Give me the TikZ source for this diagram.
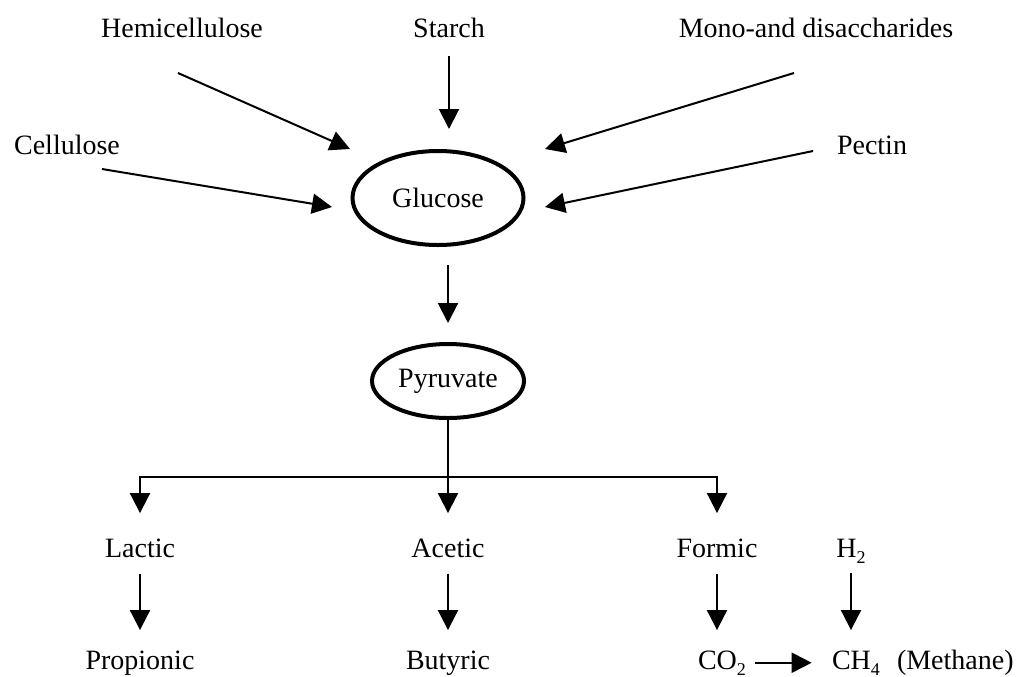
\documentclass[tikz,border=0pt]{standalone}
\usepackage{fontspec}
\setmainfont{Liberation Serif}
\usetikzlibrary{arrows.meta}
\usetikzlibrary{shapes.geometric}
\usetikzlibrary{positioning}

\newcommand{\chemsub}[1]{\raisebox{-3pt}{\fontsize{9}{9}\selectfont #1}}

\tikzset{
  label/.style={font=\fontsize{14}{16}\selectfont, inner sep=0pt, anchor=base},
  pool/.style={ellipse, draw, line width=2pt, inner sep=0pt,
    font=\fontsize{14}{16}\selectfont},
  arr/.style={-{Triangle[length=10pt,width=10pt]}, line width=1pt},
  link/.style={line width=1pt}
}

\begin{document}
\begin{tikzpicture}[x=0.5pt, y=-0.5pt]
    \useasboundingbox (0,0) rectangle (1017,676);

    % Sources
    \node[label] (hemi)      at (182,37)  {Hemicellulose};
    \node[label] (starch)    at (449,37)  {Starch};
    \node[label] (mono)      at (816,37)  {Mono-and disaccharides};
    \node[label] (cellulose) at (67,154)  {Cellulose};
    \node[label] (pectin)    at (872,154) {Pectin};

    % Intermediates
    \node[pool, minimum width=85.5pt, minimum height=47pt] (glucose)  at (438,198) {Glucose};
    \node[pool, minimum width=76pt, minimum height=37pt]   (pyruvate) at (448,381) {Pyruvate};

    % Products
    \node[label] (lactic)    at (140,557) {Lactic};
    \node[label] (acetic)    at (448,557) {Acetic};
    \node[label] (formic)    at (717,557) {Formic};
    \node[label] (hydrogen)  at (851,557) {H\chemsub{2}};
    \node[label] (propionic) at (140,669) {Propionic};
    \node[label] (butyric)   at (448,669) {Butyric};
    \node[label] (carbon)    at (722,669) {CO\chemsub{2}};
    \node[label] (methane)   at (856,669) {CH\chemsub{4}};
    \node[label, anchor=base east] (name) at (1014,669) {(Methane)};

    % Arrow ends
    \coordinate (hemi-out) at (178,73);
    \coordinate (hemi-in)  at (350,149);
    \coordinate (cell-out) at (102,169);
    \coordinate (cell-in)  at (332,207);
    \coordinate (mono-out) at (794,73);
    \coordinate (mono-in)  at (545,149);
    \coordinate (pect-out) at (813,151);
    \coordinate (pect-in)  at (545,207);
    \coordinate (fork)     at (448,477);

    \draw[arr] (hemi-out) -- (hemi-in);
    \draw[arr] (cell-out) -- (cell-in);
    \draw[arr] (mono-out) -- (mono-in);
    \draw[arr] (pect-out) -- (pect-in);
    \draw[arr, shorten <=9pt, shorten >=10pt] (starch.south) -- (starch.south |- glucose.north);

    \draw[arr, shorten <=9pt, shorten >=9.5pt] (glucose.south -| pyruvate.north) -- (pyruvate.north);
    \draw[link] (pyruvate.south) -- (fork);
    \draw[arr, shorten >=12.5pt] (fork) -| (lactic.north);
    \draw[arr, shorten >=12.5pt] (fork) -- (acetic.north);
    \draw[arr, shorten >=12.5pt] (fork) -| (formic.north);

    \draw[arr, shorten <=8pt, shorten >=10pt] (lactic.south) -- (propionic.north);
    \draw[arr, shorten <=8pt, shorten >=10pt] (acetic.south) -- (butyric.north);
    \draw[arr, shorten <=8pt, shorten >=10pt] (formic.south) -- (formic.south |- carbon.north);
    \draw[arr, shorten <=5pt, shorten >=10pt] (hydrogen.south) -- (hydrogen.south |- methane.north);
    \draw[arr, shorten <=4.5pt, shorten >=10pt] (carbon.east) -- (methane.west);
  \end{tikzpicture}
\end{document}
